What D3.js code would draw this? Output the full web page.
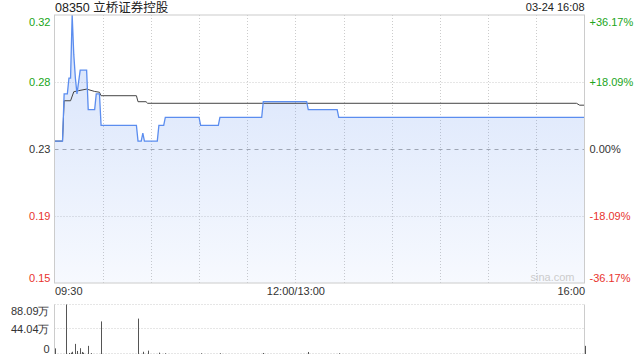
<!DOCTYPE html>
<html><head><meta charset="utf-8">
<script src="https://cdn.jsdelivr.net/npm/d3@7"></script>
<style>
html,body{margin:0;padding:0;background:#fff;}
svg{display:block;font-family:"Liberation Sans",Arial,"Noto Sans CJK SC",sans-serif;}
</style></head>
<body>
<svg id="c" width="640" height="360"></svg>
<script>
const title = "08350 立桥证券控股";
const stamp = "03-24 16:08";
const prevClose = 0.235;

const priceTimes = ["09:30","09:35","09:36","09:38","09:39","09:40","09:41","09:42","09:43","09:44","09:46","09:50","09:51","09:55","09:56","09:58","09:59","10:21","10:22","10:24","10:25","10:26","10:34","10:35","10:38","10:39","11:00","11:01","11:12","11:13","11:39","11:40","13:07","13:08","13:26","13:27","16:00"];
const priceValues = [0.24,0.24,0.27,0.27,0.28,0.28,0.32,0.295,0.28,0.27,0.285,0.285,0.26,0.26,0.27,0.27,0.25,0.25,0.24,0.24,0.245,0.24,0.24,0.25,0.25,0.255,0.255,0.25,0.25,0.255,0.255,0.265,0.265,0.26,0.26,0.255,0.255];

const avgTimes = ["09:30","09:35","09:36","09:40","09:42","09:45","09:50","09:55","09:58","09:59","10:21","10:22","10:27","10:28","15:55","15:57","16:00"];
const avgValues = [0.24,0.24,0.2656,0.2656,0.2713,0.272,0.273,0.2715,0.271,0.2688,0.2688,0.265,0.265,0.264,0.264,0.2628,0.2628];

const volTimes = ["09:30","09:37","09:39","09:40","09:41","09:43","09:44","09:46","09:47","09:48","09:51","09:53","09:59","10:22","10:25","10:28","10:35","10:39","11:01","11:13","11:40","13:08","13:27","16:00"];
const volValues = [10,88.09,1.8,2.4,4,18,5.4,10.3,3.6,2.3,14.5,1.5,58,63,4,6,2.4,1.2,1.2,1.2,1.8,3.6,1.2,14.5];

const priceTicks = [0.32,0.2775,0.235,0.1925,0.15];
const priceTickLabels = ["0.32","0.28","0.23","0.19","0.15"];
const pctTickLabels = ["+36.17%","+18.09%","0.00%","-18.09%","-36.17%"];
const volTicks = [88.09,44.04,0];
const volTickLabels = ["88.09万","44.04万","0"];
const gridMinutes = [30,60,90,120,150,180,210,240,270,300];
const timeLabelMinutes = [0,150,330];
const timeLabels = ["09:30","12:00/13:00","16:00"];

function idx(t){
  const [h,m] = t.split(":").map(Number);
  const v = h*60+m;
  return v <= 720 ? v-570 : v-780+150;
}

const svg = d3.select("#c");
const L = 54.5, R = 584.5, T = 15, B = 283;
const VT = 304.5, VB = 354;
const x = d3.scaleLinear().domain([0,330]).range([L,R]);
const y = d3.scaleLinear().domain([0.15,0.32]).range([B,T]);
const yv = d3.scaleLinear().domain([0,88.09]).range([VB,VT]);

const green = "#20a520", red = "#e8332e", txt = "#333";
function colorFor(v){ return Math.abs(v-prevClose)<1e-9 ? txt : (v>prevClose?green:red); }

// gradient
const defs = svg.append("defs");
const g = defs.append("linearGradient").attr("id","fill").attr("x1",0).attr("y1",0).attr("x2",0).attr("y2",1);
g.append("stop").attr("offset","0%").attr("stop-color","#5b8def").attr("stop-opacity",0.26);
g.append("stop").attr("offset","100%").attr("stop-color","#5b8def").attr("stop-opacity",0.05);

// grid vertical
svg.append("g").selectAll("line").data(gridMinutes).join("line")
  .attr("x1",d=>Math.round(x(d))+0.5).attr("x2",d=>Math.round(x(d))+0.5)
  .attr("y1",T).attr("y2",B)
  .attr("stroke","#ccc").attr("stroke-dasharray","1,2");
// grid horizontal
svg.append("g").selectAll("line").data(priceTicks.slice(1,4)).join("line")
  .attr("x1",L).attr("x2",R)
  .attr("y1",d=>Math.round(y(d))+0.5).attr("y2",d=>Math.round(y(d))+0.5)
  .attr("stroke",d=>d===prevClose?"#aaa":"#ccc")
  .attr("stroke-dasharray",d=>d===prevClose?"4,4":"1,2");

const pts = priceTimes.map((t,i)=>[idx(t),priceValues[i]]);
svg.append("path").datum(pts)
  .attr("d",d3.area().x(d=>x(d[0])).y0(B).y1(d=>y(d[1])))
  .attr("fill","url(#fill)");

const apts = avgTimes.map((t,i)=>[idx(t),avgValues[i]]);
svg.append("path").datum(apts)
  .attr("d",d3.line().x(d=>x(d[0])).y(d=>y(d[1])))
  .attr("fill","none").attr("stroke","#444").attr("stroke-width",1);

svg.append("path").datum(pts)
  .attr("d",d3.line().x(d=>x(d[0])).y(d=>y(d[1])))
  .attr("fill","none").attr("stroke","#5b8def").attr("stroke-width",1.3);

// border
svg.append("rect").attr("x",L).attr("y",T).attr("width",R-L).attr("height",B-T)
  .attr("fill","none").attr("stroke","#ccc");

// left axis
const ax = svg.append("g").attr("transform",`translate(${L-1},0)`)
  .call(d3.axisLeft(y).tickValues(priceTicks).tickFormat((d,i)=>priceTickLabels[i]).tickSize(0).tickPadding(3));
ax.select(".domain").remove();
ax.selectAll("text").attr("font-size",11).attr("font-family",null)
  .attr("fill",d=>colorFor(d))
  .attr("dy",(d,i)=> i===0?"0.95em":(i===priceTicks.length-1?"-0.15em":"0.32em"));

const axr = svg.append("g").attr("transform",`translate(${R+2},0)`)
  .call(d3.axisRight(y).tickValues(priceTicks).tickFormat((d,i)=>pctTickLabels[i]).tickSize(0).tickPadding(3));
axr.select(".domain").remove();
axr.selectAll("text").attr("font-size",11).attr("font-family",null)
  .attr("fill",d=>colorFor(d))
  .attr("dy",(d,i)=> i===0?"0.95em":(i===priceTicks.length-1?"-0.15em":"0.32em"));

// time axis
const axb = svg.append("g").attr("transform",`translate(0,${B})`)
  .call(d3.axisBottom(x).tickValues(timeLabelMinutes).tickFormat((d,i)=>timeLabels[i]).tickSize(0).tickPadding(4));
axb.select(".domain").remove();
axb.selectAll("text").attr("font-size",11).attr("font-family",null).attr("fill",txt)
  .attr("dy","0.72em")
  .attr("text-anchor",(d,i)=> i===0?"start":(i===timeLabels.length-1?"end":"middle"));

// watermark
svg.append("text").attr("x",R-10).attr("y",B-2).attr("text-anchor","end")
  .attr("font-size",11).attr("fill","#ccc").text("sina.com");

// title & stamp
svg.append("text").attr("x",55).attr("y",12).attr("font-size",12.5).attr("fill","#222")
  .attr("font-family","'Liberation Sans','Noto Sans CJK SC',sans-serif").text(title);
svg.append("text").attr("x",R).attr("y",11).attr("text-anchor","end").attr("font-size",11).attr("fill","#222").text(stamp);

// volume panel
svg.append("g").selectAll("line").data(volTicks).join("line")
  .attr("x1",L).attr("x2",R)
  .attr("y1",d=>Math.round(yv(d))-0.5).attr("y2",d=>Math.round(yv(d))-0.5)
  .attr("stroke","#ccc").attr("stroke-dasharray","1,2");
svg.append("line").attr("x1",L).attr("x2",L).attr("y1",VT).attr("y2",VB).attr("stroke","#ccc");
svg.append("line").attr("x1",R).attr("x2",R).attr("y1",VT).attr("y2",VB).attr("stroke","#ccc");

svg.append("g").selectAll("line").data(volTimes.map((t,i)=>[idx(t),volValues[i]])).join("line")
  .attr("x1",d=>Math.round(x(d[0]))+0.5).attr("x2",d=>Math.round(x(d[0]))+0.5)
  .attr("y1",yv(0)).attr("y2",d=>yv(d[1]))
  .attr("stroke","#555").attr("stroke-width",1);

const axv = svg.append("g").attr("transform",`translate(${L-1},0)`)
  .call(d3.axisLeft(yv).tickValues(volTicks).tickFormat((d,i)=>volTickLabels[i]).tickSize(0).tickPadding(4));
axv.select(".domain").remove();
axv.selectAll("text").attr("font-size",11).attr("font-family",null).attr("fill",txt)
  .attr("dy",(d,i)=> i===0?"0.95em":(i===volTicks.length-1?"-0.15em":"0.32em"));
</script>
</body></html>
